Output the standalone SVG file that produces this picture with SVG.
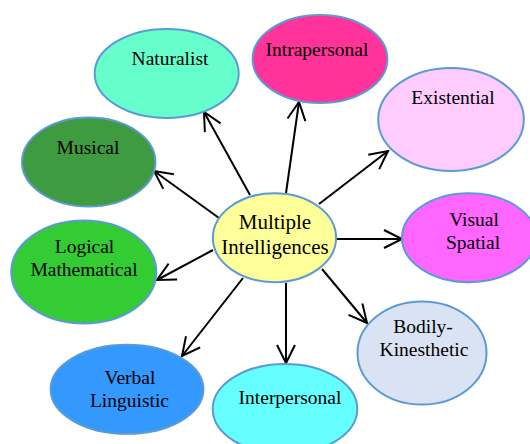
<svg xmlns="http://www.w3.org/2000/svg" width="530" height="444" viewBox="0 0 530 444">
<defs>
<marker id="arr" markerUnits="userSpaceOnUse" markerWidth="40" markerHeight="40" viewBox="-20 -20 40 40" refX="0" refY="0" orient="auto">
<path d="M-18,-9 L0,0 L-18,9" fill="none" stroke="#000" stroke-width="2"/>
</marker>
</defs>
<style>
.n{stroke:#5B9BD5;stroke-width:2}
.t{font-family:"Liberation Serif","Times New Roman",serif;font-size:19.5px;fill:#000;text-anchor:middle}
.c{font-size:21px}
.e line{stroke:#000;stroke-width:2;marker-end:url(#arr)}
</style>
<rect width="530" height="444" fill="#fff"/>
<g id="connectors" class="e">
<line x1="250" y1="195" x2="204" y2="112"/>
<line x1="286" y1="193" x2="299" y2="102"/>
<line x1="319" y1="204" x2="388" y2="151"/>
<line x1="219" y1="218" x2="154" y2="171"/>
<line x1="213" y1="250" x2="157" y2="280"/>
<line x1="336" y1="239" x2="402" y2="239"/>
<line x1="322" y1="269" x2="367" y2="323"/>
<line x1="286" y1="283" x2="286" y2="363"/>
<line x1="243" y1="278" x2="182" y2="356"/>
</g>
<g id="naturalist"><ellipse class="n" cx="166.7" cy="73.4" rx="72" ry="44.5" fill="#66FFCC"/><text class="t" x="170" y="65">Naturalist</text></g>
<g id="intrapersonal"><ellipse class="n" cx="320" cy="59" rx="67.4" ry="44" fill="#FF3399"/><text class="t" x="317" y="56">Intrapersonal</text></g>
<g id="existential"><ellipse class="n" cx="451" cy="119.5" rx="72.8" ry="51.5" fill="#FFCCFF"/><text class="t" x="453" y="104">Existential</text></g>
<g id="musical"><ellipse class="n" cx="88.7" cy="162" rx="66.7" ry="44.5" fill="#3F9B40"/><text class="t" x="88" y="154">Musical</text></g>
<g id="center"><ellipse class="n" cx="274.5" cy="237.7" rx="61.6" ry="44.5" fill="#FFFF99"/><text class="t c" x="275" y="229">Multiple</text><text class="t c" x="275" y="254">Intelligences</text></g>
<g id="visual"><ellipse class="n" cx="469" cy="237.7" rx="67" ry="44.5" fill="#FF66FF"/><text class="t" x="474" y="226">Visual</text><text class="t" x="473" y="249">Spatial</text></g>
<g id="logical"><ellipse class="n" cx="83.8" cy="272" rx="72.5" ry="51.5" fill="#33CC33"/><text class="t" x="84.5" y="253">Logical</text><text class="t" x="84" y="276">Mathematical</text></g>
<g id="bodily"><ellipse class="n" cx="422" cy="353" rx="64.5" ry="51.5" fill="#DAE3F3"/><text class="t" x="423" y="333">Bodily-</text><text class="t" x="424" y="356">Kinesthetic</text></g>
<g id="verbal"><ellipse class="n" cx="127" cy="389.3" rx="76.4" ry="44.5" fill="#3399FF"/><text class="t" x="130" y="384">Verbal</text><text class="t" x="129.5" y="407">Linguistic</text></g>
<g id="interpersonal"><ellipse class="n" cx="285" cy="409" rx="72.3" ry="45" fill="#66FFFF"/><text class="t" x="290" y="404">Interpersonal</text></g>
</svg>
